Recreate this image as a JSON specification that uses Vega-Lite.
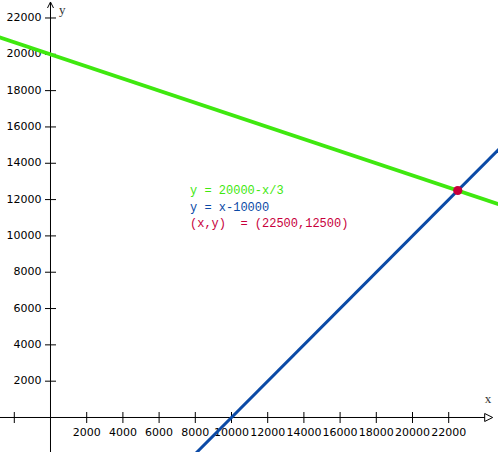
{
  "$schema": "https://vega.github.io/schema/vega-lite/v6.json",
  "width": 498,
  "height": 452,
  "padding": 0,
  "autosize": {"type": "none"},
  "config": {"view": {"stroke": null}},
  "background": "white",
  "datasets": {
    "one": [{"k": 1}],
    "lines": [
      {"series": "y = 20000-x/3", "x": -3000, "y": 21000},
      {"series": "y = 20000-x/3", "x": 25000, "y": 11666.67},
      {"series": "y = x-10000", "x": 8000, "y": -2000},
      {"series": "y = x-10000", "x": 25000, "y": 15000}
    ],
    "xticks": [
      {"v": -2000, "label": ""},
      {"v": 2000, "label": "2000"},
      {"v": 4000, "label": "4000"},
      {"v": 6000, "label": "6000"},
      {"v": 8000, "label": "8000"},
      {"v": 10000, "label": "10000"},
      {"v": 12000, "label": "12000"},
      {"v": 14000, "label": "14000"},
      {"v": 16000, "label": "16000"},
      {"v": 18000, "label": "18000"},
      {"v": 20000, "label": "20000"},
      {"v": 22000, "label": "22000"}
    ],
    "yticks": [
      {"v": 2000, "label": "2000"},
      {"v": 4000, "label": "4000"},
      {"v": 6000, "label": "6000"},
      {"v": 8000, "label": "8000"},
      {"v": 10000, "label": "10000"},
      {"v": 12000, "label": "12000"},
      {"v": 14000, "label": "14000"},
      {"v": 16000, "label": "16000"},
      {"v": 18000, "label": "18000"},
      {"v": 20000, "label": "20000"},
      {"v": 22000, "label": "22000"}
    ],
    "point": [{"x": 22500, "y": 12500}]
  },
  "layer": [
    {
      "data": {"name": "one"},
      "mark": {"type": "rule", "color": "black", "strokeWidth": 1},
      "encoding": {
        "x": {"datum": -2790, "type": "quantitative", "scale": {"domain": [-2790, 24724], "nice": false, "zero": false}, "axis": null},
        "x2": {"datum": 24300},
        "y": {"datum": 0, "type": "quantitative", "scale": {"domain": [-1900, 22990], "nice": false, "zero": false}, "axis": null}
      }
    },
    {
      "data": {"name": "one"},
      "mark": {"type": "rule", "color": "black", "strokeWidth": 1},
      "encoding": {
        "x": {"datum": 0, "type": "quantitative", "scale": {"domain": [-2790, 24724], "nice": false, "zero": false}, "axis": null},
        "y": {"datum": -1900, "type": "quantitative", "scale": {"domain": [-1900, 22990], "nice": false, "zero": false}, "axis": null},
        "y2": {"datum": 22880}
      }
    },
    {
      "data": {"name": "xticks"},
      "mark": {"type": "tick", "orient": "vertical", "size": 11, "thickness": 1, "color": "black", "opacity": 1},
      "encoding": {
        "x": {"field": "v", "type": "quantitative", "scale": {"domain": [-2790, 24724], "nice": false, "zero": false}, "axis": null},
        "y": {"datum": 0, "type": "quantitative", "scale": {"domain": [-1900, 22990], "nice": false, "zero": false}, "axis": null}
      }
    },
    {
      "data": {"name": "yticks"},
      "mark": {"type": "tick", "orient": "horizontal", "size": 11, "thickness": 1, "color": "black", "opacity": 1},
      "encoding": {
        "x": {"datum": 0, "type": "quantitative", "scale": {"domain": [-2790, 24724], "nice": false, "zero": false}, "axis": null},
        "y": {"field": "v", "type": "quantitative", "scale": {"domain": [-1900, 22990], "nice": false, "zero": false}, "axis": null}
      }
    },
    {
      "data": {"name": "xticks"},
      "mark": {"type": "text", "font": "DejaVu Sans", "fontSize": 11, "color": "black", "align": "center", "baseline": "middle", "dy": 16},
      "encoding": {
        "x": {"field": "v", "type": "quantitative", "scale": {"domain": [-2790, 24724], "nice": false, "zero": false}, "axis": null},
        "y": {"datum": 0, "type": "quantitative", "scale": {"domain": [-1900, 22990], "nice": false, "zero": false}, "axis": null},
        "text": {"field": "label"}
      }
    },
    {
      "data": {"name": "yticks"},
      "mark": {"type": "text", "font": "DejaVu Sans", "fontSize": 11, "color": "black", "align": "right", "baseline": "middle", "dx": -9},
      "encoding": {
        "x": {"datum": 0, "type": "quantitative", "scale": {"domain": [-2790, 24724], "nice": false, "zero": false}, "axis": null},
        "y": {"field": "v", "type": "quantitative", "scale": {"domain": [-1900, 22990], "nice": false, "zero": false}, "axis": null},
        "text": {"field": "label"}
      }
    },
    {
      "data": {"name": "one"},
      "mark": {"type": "point", "shape": "M-1,2L0,0L1,2", "filled": false, "size": 36, "color": "black", "strokeWidth": 1, "opacity": 1},
      "encoding": {
        "x": {"datum": 0, "type": "quantitative", "scale": {"domain": [-2790, 24724], "nice": false, "zero": false}, "axis": null},
        "y": {"datum": 22880, "type": "quantitative", "scale": {"domain": [-1900, 22990], "nice": false, "zero": false}, "axis": null}
      }
    },
    {
      "data": {"name": "one"},
      "mark": {"type": "point", "shape": "M-2,-1L0,0L-2,1Z", "filled": false, "fill": "white", "size": 64, "color": "black", "strokeWidth": 1, "opacity": 1, "fillOpacity": 1},
      "encoding": {
        "x": {"datum": 24430, "type": "quantitative", "scale": {"domain": [-2790, 24724], "nice": false, "zero": false}, "axis": null},
        "y": {"datum": 0, "type": "quantitative", "scale": {"domain": [-1900, 22990], "nice": false, "zero": false}, "axis": null}
      }
    },
    {
      "data": {"name": "one"},
      "mark": {"type": "text", "font": "Liberation Serif", "fontSize": 13, "color": "#333333", "align": "left", "baseline": "middle"},
      "encoding": {
        "x": {"datum": 470, "type": "quantitative", "scale": {"domain": [-2790, 24724], "nice": false, "zero": false}, "axis": null},
        "y": {"datum": 22440, "type": "quantitative", "scale": {"domain": [-1900, 22990], "nice": false, "zero": false}, "axis": null},
        "text": {"value": "y"}
      }
    },
    {
      "data": {"name": "one"},
      "mark": {"type": "text", "font": "Liberation Serif", "fontSize": 13, "color": "#333333", "align": "center", "baseline": "middle"},
      "encoding": {
        "x": {"datum": 24170, "type": "quantitative", "scale": {"domain": [-2790, 24724], "nice": false, "zero": false}, "axis": null},
        "y": {"datum": 1000, "type": "quantitative", "scale": {"domain": [-1900, 22990], "nice": false, "zero": false}, "axis": null},
        "text": {"value": "x"}
      }
    },
    {
      "data": {"name": "lines"},
      "mark": {"type": "line", "clip": true},
      "encoding": {
        "x": {"field": "x", "type": "quantitative", "scale": {"domain": [-2790, 24724], "nice": false, "zero": false}, "axis": null},
        "y": {"field": "y", "type": "quantitative", "scale": {"domain": [-1900, 22990], "nice": false, "zero": false}, "axis": null},
        "color": {"field": "series", "type": "nominal", "scale": {"domain": ["y = 20000-x/3", "y = x-10000"], "range": ["#3fe80f", "#0b4aa6"]}, "legend": null},
        "strokeWidth": {"field": "series", "type": "nominal", "scale": {"domain": ["y = 20000-x/3", "y = x-10000"], "range": [3.8, 3]}, "legend": null}
      }
    },
    {
      "data": {"name": "point"},
      "mark": {"type": "point", "filled": true, "shape": "circle", "size": 85, "color": "#c8003c", "opacity": 1},
      "encoding": {
        "x": {"field": "x", "type": "quantitative", "scale": {"domain": [-2790, 24724], "nice": false, "zero": false}, "axis": null},
        "y": {"field": "y", "type": "quantitative", "scale": {"domain": [-1900, 22990], "nice": false, "zero": false}, "axis": null}
      }
    },
    {
      "data": {"name": "one"},
      "mark": {"type": "text", "font": "Liberation Mono", "fontSize": 12, "color": "#3fe80f", "align": "left", "baseline": "middle"},
      "encoding": {
        "x": {"datum": 7707, "type": "quantitative", "scale": {"domain": [-2790, 24724], "nice": false, "zero": false}, "axis": null},
        "y": {"datum": 12527, "type": "quantitative", "scale": {"domain": [-1900, 22990], "nice": false, "zero": false}, "axis": null},
        "text": {"value": "y = 20000-x/3"}
      }
    },
    {
      "data": {"name": "one"},
      "mark": {"type": "text", "font": "Liberation Mono", "fontSize": 12, "color": "#0b4aa6", "align": "left", "baseline": "middle"},
      "encoding": {
        "x": {"datum": 7707, "type": "quantitative", "scale": {"domain": [-2790, 24724], "nice": false, "zero": false}, "axis": null},
        "y": {"datum": 11618, "type": "quantitative", "scale": {"domain": [-1900, 22990], "nice": false, "zero": false}, "axis": null},
        "text": {"value": "y = x-10000"}
      }
    },
    {
      "data": {"name": "one"},
      "mark": {"type": "text", "font": "Liberation Mono", "fontSize": 12, "color": "#c8003c", "align": "left", "baseline": "middle"},
      "encoding": {
        "x": {"datum": 7707, "type": "quantitative", "scale": {"domain": [-2790, 24724], "nice": false, "zero": false}, "axis": null},
        "y": {"datum": 10710, "type": "quantitative", "scale": {"domain": [-1900, 22990], "nice": false, "zero": false}, "axis": null},
        "text": {"value": "(x,y)\u00a0 = (22500,12500)"}
      }
    }
  ]
}
